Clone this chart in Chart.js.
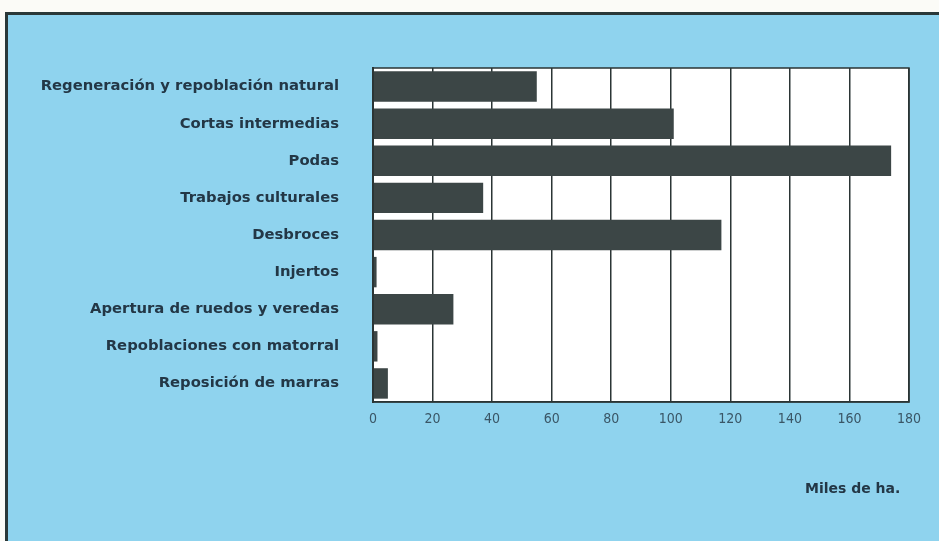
<!DOCTYPE html>
<html>
<head>
<meta charset="utf-8">
<script src="https://cdn.jsdelivr.net/npm/chart.js@4.4.1/dist/chart.umd.min.js"></script>
<style>
  html, body { margin: 0; padding: 0; background: #fbfbf7; }
  #wrap { position: relative; width: 939px; height: 541px; overflow: hidden; }
  #panel {
    position: absolute; left: 5px; top: 12px; right: 0; bottom: 0;
    background: #8fd3ee;
    border-top: 3px solid #2a3838;
    border-left: 3px solid #2a3838;
  }
  #chart { position: absolute; left: 0; top: 0; }
  #unit {
    position: absolute; left: 805px; top: 480px;
    font: bold 14px "DejaVu Sans", sans-serif;
    color: #233746;
  }
</style>
</head>
<body>
<div id="wrap">
  <div id="panel"></div>
  <canvas id="chart" width="939" height="541"></canvas>
  <div id="unit">Miles de ha.</div>
</div>
<script>
// Superficie tratada por tipo de trabajo (miles de ha.)
const categorias = [
  "Regeneración y repoblación natural",
  "Cortas intermedias",
  "Podas",
  "Trabajos culturales",
  "Desbroces",
  "Injertos",
  "Apertura de ruedos y veredas",
  "Repoblaciones con matorral",
  "Reposición de marras",
];
const valores = [55, 101, 174, 37, 117, 1.2, 27, 1.5, 5];
const ejeMin = 0;
const ejeMax = 180;
const ejePaso = 20;

const TEXTO = "#233746";

// fondo blanco y marco del área de trazado
const plotFrame = {
  id: "plotFrame",
  beforeDraw(chart) {
    const { ctx, chartArea: a } = chart;
    ctx.save();
    ctx.fillStyle = "#ffffff";
    ctx.fillRect(a.left, a.top, a.right - a.left, a.bottom - a.top);
    ctx.restore();
  },
  afterDraw(chart) {
    const { ctx, chartArea: a } = chart;
    ctx.save();
    ctx.strokeStyle = "#2b3535";
    ctx.lineWidth = 1.5;
    ctx.strokeRect(a.left, a.top, a.right - a.left, a.bottom - a.top);
    ctx.restore();
  },
};

new Chart(document.getElementById("chart"), {
  type: "bar",
  data: {
    labels: categorias,
    datasets: [
      {
        data: valores,
        backgroundColor: "#3c4646",
        borderWidth: 0,
        barPercentage: 0.82,
        categoryPercentage: 1,
      },
    ],
  },
  options: {
    indexAxis: "y",
    responsive: false,
    animation: false,
    layout: { padding: { left: 0, top: 68, right: 30, bottom: 109 } },
    plugins: { legend: { display: false }, tooltip: { enabled: false } },
    scales: {
      x: {
        min: ejeMin,
        max: ejeMax,
        afterFit(scale) {
          scale.height = 30;
        },
        grid: { color: "#2b3535", lineWidth: 1.5, drawTicks: false },
        border: { color: "#2b3535", width: 1.5 },
        ticks: {
          stepSize: ejePaso,
          padding: 9,
          color: "#3a5666",
          font: { family: "'DejaVu Sans Condensed', 'Liberation Sans Narrow', sans-serif", size: 14 },
        },
      },
      y: {
        afterFit(scale) {
          scale.width = 373;
        },
        grid: { display: false, drawTicks: false },
        border: { color: "#2b3535", width: 2 },
        ticks: {
          padding: 34,
          color: TEXTO,
          font: { family: "'DejaVu Sans', sans-serif", size: 14.8, weight: "bold" },
        },
      },
    },
  },
  plugins: [plotFrame],
});
</script>
</body>
</html>
